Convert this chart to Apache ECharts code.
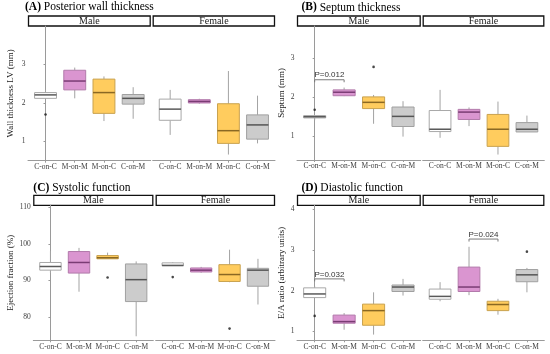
<!DOCTYPE html>
<html>
<head>
<meta charset="utf-8">
<script src="https://cdn.jsdelivr.net/npm/echarts@6/dist/echarts.min.js"></script>
<style>
html,body{margin:0;padding:0;background:#fff;}
#chart{width:550px;height:354px;}
</style>
</head>
<body>
<div id="chart"></div>
<script>
// ---------- DATA ----------
const categories = ['C-on-C', 'M-on-M', 'M-on-C', 'C-on-M'];
const facets = ['Male', 'Female'];
// each box: [lower whisker, Q1, median, Q3, upper whisker]
const wallMale      = [[2.10, 2.12, 2.21, 2.27, 2.34], [2.12, 2.34, 2.57, 2.85, 2.92], [1.53, 1.73, 2.27, 2.62, 2.69], [1.59, 1.97, 2.12, 2.22, 2.41]];
const wallFemale    = [[1.17, 1.55, 1.84, 2.10, 2.34], [1.98, 2.00, 2.04, 2.085, 2.11], [0.66, 0.95, 1.28, 1.98, 2.83], [0.95, 1.06, 1.43, 1.69, 2.19]];
const wallOutMale   = [[0, 1.70]];
const wallOutFemale = [];

const septumMale      = [[1.40, 1.46, 1.49, 1.52, 1.53], [2.02, 2.03, 2.12, 2.18, 2.24], [1.31, 1.70, 1.86, 2.00, 2.05], [0.98, 1.24, 1.50, 1.74, 1.89]];
const septumFemale    = [[0.95, 1.11, 1.17, 1.65, 2.18], [1.25, 1.42, 1.61, 1.68, 1.73], [0.52, 0.73, 1.17, 1.55, 1.88], [1.10, 1.10, 1.17, 1.34, 1.52]];
const septumOutMale   = [[0, 1.67], [2, 2.77]];
const septumOutFemale = [];

const efMale      = [[92.0, 92.8, 93.8, 94.9, 98.0], [86.9, 92.0, 94.9, 97.9, 98.9], [95.9, 95.9, 96.2, 96.8, 97.6], [74.7, 84.2, 90.2, 94.5, 95.2]];
const efFemale    = [[94.0, 94.0, 94.1, 94.8, 95.0], [92.1, 92.3, 92.8, 93.4, 93.7], [89.5, 89.7, 91.6, 94.3, 98.4], [83.4, 88.4, 92.8, 93.3, 95.9]];
const efOutMale   = [[2, 90.8]];
const efOutFemale = [[0, 90.9], [2, 76.8]];

const eaMale      = [[1.83, 1.83, 1.92, 2.07, 2.11], [1.04, 1.20, 1.24, 1.40, 1.45], [0.92, 1.15, 1.51, 1.67, 1.96], [1.88, 1.98, 2.09, 2.14, 2.29]];
const eaFemale    = [[1.74, 1.79, 1.86, 2.04, 2.21], [1.89, 1.98, 2.09, 2.58, 3.08], [1.41, 1.51, 1.66, 1.74, 1.80], [1.96, 2.22, 2.39, 2.52, 2.56]];
const eaOutMale   = [[0, 1.38]];
const eaOutFemale = [[3, 2.96]];

// significance brackets: [from category, to category, y level, label index]
const pLabels        = ['P=0.012', 'P=0.032', 'P=0.024'];
const septumBracketM = [[0, 1, 2.44, 0]];
const eaBracketM     = [[0, 1, 2.29, 1]];
const eaBracketF     = [[1, 2, 3.27, 2]];

const panelTitles = [['(A)', ' Posterior wall thickness'], ['(B)', ' Septum thickness'], ['(C)', ' Systolic function'], ['(D)', ' Diastolic function']];
const yTitles = ['Wall thickness LV (mm)', 'Septum (mm)', 'Ejection fraction (%)', 'E/A ratio (arbitrary units)'];
const yTicks = [[1, 2, 3], [1, 2, 3], [80, 90, 100, 110], [1, 2, 3, 4]];

// ---------- LAYOUT / STYLE ----------
const SERIF = '"Liberation Serif", "Times New Roman", serif';
const SANS = '"Liberation Sans", Arial, sans-serif';
const axisCol = '#9a9a9a';
const fills = ['#ffffff', '#DA95D0', '#FFCC5E', '#CCCCCC'];
const borders = ['#a8a8a8', '#b27aab', '#c9a24f', '#a0a0a0'];
const medians = ['#5a5a5a', '#7a3c74', '#8a6823', '#555555'];
const whiskerCol = '#a3a3a3';

// per panel: [male grid, female grid] as [left, top, width, height]
const gridPos = [
  [[28, 26, 122.7, 134.7], [152.7, 26, 122.3, 134.7]],
  [[297, 26, 123.7, 134], [422.7, 26, 121.6, 134]],
  [[33.3, 205.3, 120, 135], [155.7, 205.3, 119.3, 135]],
  [[297, 205.3, 123.7, 135], [422.7, 205.3, 121.6, 135]]
];
const yRange = [[0.5, 4.0], [0.38, 3.82], [73.6, 110.55], [0.78, 4.1]];
const nameGaps = [13, 11, 18, 10.5];
const titlePos = [[25, 7], [301.5, 7.5], [33.3, 188], [301.5, 188]];

const boxData = [[wallMale, wallFemale], [septumMale, septumFemale], [efMale, efFemale], [eaMale, eaFemale]];
const outData = [[wallOutMale, wallOutFemale], [septumOutMale, septumOutFemale], [efOutMale, efOutFemale], [eaOutMale, eaOutFemale]];
const bracketData = [[[], []], [septumBracketM, []], [[], []], [eaBracketM, eaBracketF]];

function renderBox(params, api) {
  const x = api.value(0);
  const lo = api.coord([x, api.value(1)]);
  const q1 = api.coord([x, api.value(2)]);
  const md = api.coord([x, api.value(3)]);
  const q3 = api.coord([x, api.value(4)]);
  const hi = api.coord([x, api.value(5)]);
  const ci = api.value(6);
  const w = api.size([0.75, 0])[0];
  const cx = md[0];
  return {
    type: 'group',
    children: [
      { type: 'line', shape: { x1: cx, y1: hi[1], x2: cx, y2: q3[1] }, style: { stroke: whiskerCol, lineWidth: 1 } },
      { type: 'line', shape: { x1: cx, y1: q1[1], x2: cx, y2: lo[1] }, style: { stroke: whiskerCol, lineWidth: 1 } },
      { type: 'rect', shape: { x: cx - w / 2, y: q3[1], width: w, height: Math.max(q1[1] - q3[1], 0.5) },
        style: { fill: fills[ci], stroke: borders[ci], lineWidth: 1 } },
      { type: 'line', shape: { x1: cx - w / 2, y1: md[1], x2: cx + w / 2, y2: md[1] }, style: { stroke: medians[ci], lineWidth: 1.5 } }
    ]
  };
}

function renderBracket(params, api) {
  const a = api.coord([api.value(0), api.value(2)]);
  const b = api.coord([api.value(1), api.value(2)]);
  const label = pLabels[api.value(3)];
  return {
    type: 'group',
    children: [
      { type: 'polyline', shape: { points: [[a[0], a[1] + 2.5], [a[0], a[1]], [b[0], a[1]], [b[0], a[1] + 2.5]] },
        style: { stroke: '#7a7a7a', lineWidth: 1, fill: null } },
      { type: 'text', x: (a[0] + b[0]) / 2, y: a[1] - 0.5,
        style: { text: label, fill: '#333', font: '8px ' + SANS, align: 'center', verticalAlign: 'bottom', textAlign: 'center', textVerticalAlign: 'bottom' } }
    ]
  };
}

const grids = [], xAxes = [], yAxes = [], series = [], graphics = [];
for (let p = 0; p < 4; p++) {
  for (let f = 0; f < 2; f++) {
    const gi = p * 2 + f;
    const g = gridPos[p][f];
    grids.push({ left: g[0], top: g[1], width: g[2], height: g[3] });
    xAxes.push({
      type: 'value', gridIndex: gi, min: -0.6, max: 3.6,
      axisLine: { show: true, lineStyle: { color: axisCol, width: 1 } },
      axisTick: { show: true, length: 2, customValues: [0, 1, 2, 3], lineStyle: { color: axisCol } },
      axisLabel: { customValues: [0, 1, 2, 3], formatter: v => categories[Math.round(v)], fontSize: 7.5, fontFamily: SERIF, color: '#3d3d3d', margin: 2.5 },
      splitLine: { show: false }
    });
    if (f === 0) {
      yAxes.push({
        type: 'value', gridIndex: gi, min: yRange[p][0], max: yRange[p][1],
        axisLine: { show: true, lineStyle: { color: axisCol, width: 1 } },
        axisTick: { show: true, length: 2, customValues: yTicks[p], lineStyle: { color: axisCol } },
        axisLabel: { customValues: yTicks[p], fontSize: 7.5, fontFamily: SERIF, color: '#3d3d3d', margin: 2.5 },
        splitLine: { show: false },
        name: yTitles[p], nameLocation: 'middle', nameGap: nameGaps[p], nameRotate: 90,
        nameTextStyle: { fontSize: 9, fontFamily: SERIF, color: '#1a1a1a' }
      });
    } else {
      yAxes.push({ type: 'value', gridIndex: gi, min: yRange[p][0], max: yRange[p][1], show: false, splitLine: { show: false } });
    }
    series.push({
      type: 'custom', xAxisIndex: gi, yAxisIndex: gi, renderItem: renderBox,
      encode: { x: 0, y: [1, 2, 3, 4, 5] },
      data: boxData[p][f].map((d, k) => [k].concat(d).concat([k]))
    });
    series.push({
      type: 'scatter', xAxisIndex: gi, yAxisIndex: gi, symbolSize: 2.6,
      itemStyle: { color: '#1a1a1a' },
      data: outData[p][f].map(d => [d[0], d[1]])
    });
    if (bracketData[p][f].length) {
      series.push({
        type: 'custom', xAxisIndex: gi, yAxisIndex: gi, renderItem: renderBracket,
        encode: { x: [0, 1], y: 2 },
        data: bracketData[p][f]
      });
    }
    // strip
    graphics.push({ type: 'rect', shape: { x: g[0] + 0.5, y: g[1] - 10, width: g[2] - 1, height: 10 },
      style: { fill: '#fff', stroke: '#111', lineWidth: 1.3 } });
    graphics.push({ type: 'text', x: g[0] + g[2] / 2, y: g[1] - 4.7,
      style: { text: facets[f], font: '10px ' + SERIF, fill: '#1a1a1a', align: 'center', verticalAlign: 'middle', textAlign: 'center', textVerticalAlign: 'middle' } });
  }
  graphics.push({ type: 'text', x: titlePos[p][0], y: titlePos[p][1],
    style: { text: '{b|' + panelTitles[p][0] + '}' + panelTitles[p][1], font: '11.5px ' + SERIF, fill: '#000',
      rich: { b: { fontWeight: 'bold', fontSize: 11.5, fontFamily: SERIF } },
      align: 'left', verticalAlign: 'middle', textAlign: 'left', textVerticalAlign: 'middle' } });
}

const chart = echarts.init(document.getElementById('chart'), null, { renderer: 'canvas' });
chart.setOption({
  animation: false,
  backgroundColor: '#fff',
  grid: grids,
  xAxis: xAxes,
  yAxis: yAxes,
  series: series,
  graphic: { elements: graphics }
});
</script>
</body>
</html>
